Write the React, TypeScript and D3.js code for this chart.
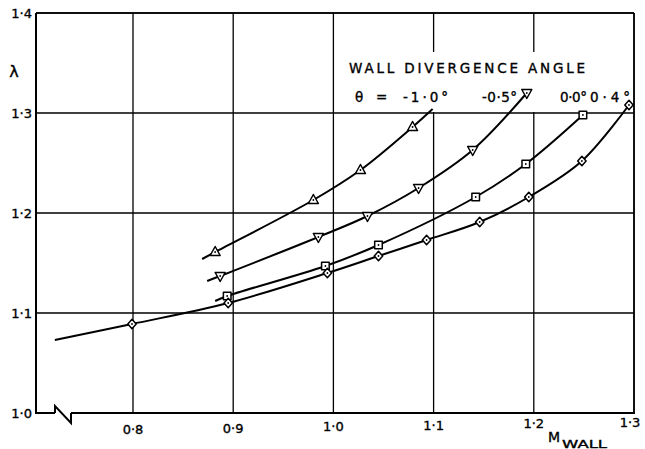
import React from "react";
import * as d3 from "d3";

// Mach number at the wall (x) and lambda (y) for each divergence angle
const thetaLabels = ["-1·0°", "-0·5°", "0·0°", "0·4°"];
const markerShapes = ["triUp", "triDown", "square", "diamond"];

const machM10 = [0.882, 0.980, 1.027, 1.079];
const lambdaM10 = [1.161, 1.213, 1.243, 1.286];
const machM05 = [0.887, 0.985, 1.034, 1.085, 1.139, 1.193];
const lambdaM05 = [1.137, 1.176, 1.197, 1.225, 1.263, 1.320];
const machP00 = [0.894, 0.992, 1.045, 1.142, 1.192, 1.249];
const lambdaP00 = [1.117, 1.147, 1.168, 1.216, 1.249, 1.298];
const machP04 = [0.799, 0.895, 0.994, 1.045, 1.093, 1.146, 1.195, 1.248, 1.295];
const lambdaP04 = [1.089, 1.110, 1.140, 1.157, 1.173, 1.191, 1.216, 1.252, 1.308];

// faired-curve extents beyond the plotted points: [mach, lambda]
const curveStart = [[0.869, 1.154], [0.874, 1.132], [0.882, 1.112], [0.722, 1.073]];
const curveEnd = [[1.099, 1.304], null, null, null];

const xTicks = [0.8, 0.9, 1.0, 1.1, 1.2, 1.3];
const xTickLabels = ["0·8", "0·9", "1·0", "1·1", "1·2", "1·3"];
const yTicks = [1.0, 1.1, 1.2, 1.3, 1.4];
const yTickLabels = ["1·0", "1·1", "1·2", "1·3", "1·4"];

const seriesMach = [machM10, machM05, machP00, machP04];
const seriesLambda = [lambdaM10, lambdaM05, lambdaP00, lambdaP04];

const W = 645;
const H = 449;
const FONT = "'DejaVu Sans', sans-serif";

const x = d3.scaleLinear().domain([0.8, 1.3]).range([133, 634]);
const y = d3.scaleLinear().domain([1.0, 1.4]).range([413, 13]);
const xLeft = x(0.7032);

const line = d3
  .line<number[]>()
  .x((d) => x(d[0]))
  .y((d) => y(d[1]))
  .curve(d3.curveCatmullRom.alpha(0.5));

function Marker({ shape, cx, cy }: { shape: string; cx: number; cy: number }) {
  let d = "";
  if (shape === "triUp") d = `M${cx},${cy - 5.5}L${cx + 5},${cy + 3.5}L${cx - 5},${cy + 3.5}Z`;
  else if (shape === "triDown") d = `M${cx - 5},${cy - 3.5}L${cx + 5},${cy - 3.5}L${cx},${cy + 5.5}Z`;
  else if (shape === "square") d = `M${cx - 3.8},${cy - 3.8}h7.6v7.6h-7.6Z`;
  else d = `M${cx},${cy - 4.8}L${cx + 4.2},${cy}L${cx},${cy + 4.8}L${cx - 4.2},${cy}Z`;
  return (
    <g>
      <path d={d} fill="#fff" stroke="#000" strokeWidth={1.5} strokeLinejoin="round" />
      <circle cx={cx} cy={cy} r={0.9} fill="#000" />
    </g>
  );
}

// legend entries: label position and width along the theta row
const legendX = [403, 482, 560, 590];
const legendW = [45, 35, 27, 40];

const textStyle = { fill: "#000", stroke: "#000", strokeWidth: 0.35 };

export default function App() {
  const yBottom = y(1.0);
  const yTop = y(1.4);
  const xRight = x(1.3);

  return (
    <svg
      width={W}
      height={H}
      viewBox={`0 0 ${W} ${H}`}
      style={{ position: "absolute", left: 0, top: 0, background: "#fff" }}
      fontFamily={FONT}
    >
      <rect x={0} y={0} width={W} height={H} fill="#fff" />

      {/* vertical grid lines */}
      {xTicks.map((t) => (
        <line key={`gx${t}`} x1={x(t)} x2={x(t)} y1={yTop} y2={yBottom} stroke="#000" strokeWidth={1.3} />
      ))}
      {/* horizontal grid lines above the base */}
      {yTicks.slice(1).map((t) => (
        <line key={`gy${t}`} x1={xLeft} x2={xRight} y1={y(t)} y2={y(t)} stroke="#000" strokeWidth={1.3} />
      ))}

      {/* clear panel for the legend */}
      <rect x={340} y={52} width={291} height={y(1.3) - 53} fill="#fff" />

      {/* frame: left axis, top, right */}
      <line x1={xLeft} x2={xLeft} y1={yTop} y2={yBottom + 1} stroke="#000" strokeWidth={2} />
      <line x1={xLeft} x2={xRight} y1={yTop} y2={yTop} stroke="#000" strokeWidth={1.6} />
      <line x1={xRight} x2={xRight} y1={yTop} y2={yBottom} stroke="#000" strokeWidth={1.6} />
      {/* base line with axis break */}
      <line x1={xLeft} x2={55} y1={yBottom} y2={yBottom} stroke="#000" strokeWidth={2} />
      <polyline
        points={`55,${yBottom} 55,${yBottom - 7} 71,${yBottom + 10} 71,${yBottom}`}
        fill="none"
        stroke="#000"
        strokeWidth={2}
      />
      <line x1={71} x2={xRight + 1} y1={yBottom} y2={yBottom} stroke="#000" strokeWidth={2} />

      {/* curves */}
      {seriesMach.map((mx, i) => {
        const pts: number[][] = [curveStart[i], ...mx.map((m, j) => [m, seriesLambda[i][j]])];
        const end = curveEnd[i];
        if (end) pts.push(end);
        return <path key={`c${i}`} d={line(pts) || ""} fill="none" stroke="#000" strokeWidth={2} />;
      })}

      {/* markers */}
      {seriesMach.map((mx, i) =>
        mx.map((m, j) => (
          <Marker key={`m${i}-${j}`} shape={markerShapes[i]} cx={x(m)} cy={y(seriesLambda[i][j])} />
        ))
      )}

      {/* y tick labels */}
      {yTicks.map((t, i) => (
        <text key={`yl${t}`} x={32} y={y(t) + 5} textAnchor="end" fontSize={13} style={textStyle}>
          {yTickLabels[i]}
        </text>
      ))}
      <text x={14} y={77} textAnchor="middle" fontSize={16} style={textStyle}>λ</text>

      {/* x tick labels */}
      {xTicks.map((t, i) => (
        <text
          key={`xl${t}`}
          x={x(t) - (i === xTicks.length - 1 ? 4 : 0)}
          y={434 - i * 1.5}
          textAnchor="middle"
          fontSize={13}
          style={textStyle}
        >
          {xTickLabels[i]}
        </text>
      ))}
      <text x={548} y={442} fontSize={14} style={textStyle}>M</text>
      <text x={562} y={448} fontSize={10.5} style={textStyle} textLength={45} lengthAdjust="spacingAndGlyphs">WALL</text>

      {/* legend */}
      <text x={349} y={73} fontSize={13.5} style={textStyle} textLength={236} lengthAdjust="spacing">
        WALL DIVERGENCE ANGLE
      </text>
      <text x={355} y={102} fontSize={13.5} style={textStyle}>θ</text>
      <text x={376} y={102} fontSize={13.5} style={textStyle}>=</text>
      {thetaLabels.map((lab, i) => (
        <text
          key={`lg${i}`}
          x={legendX[i]}
          y={102}
          fontSize={13.5}
          style={textStyle}
          textLength={legendW[i]}
          lengthAdjust="spacing"
        >
          {lab}
        </text>
      ))}
    </svg>
  );
}
